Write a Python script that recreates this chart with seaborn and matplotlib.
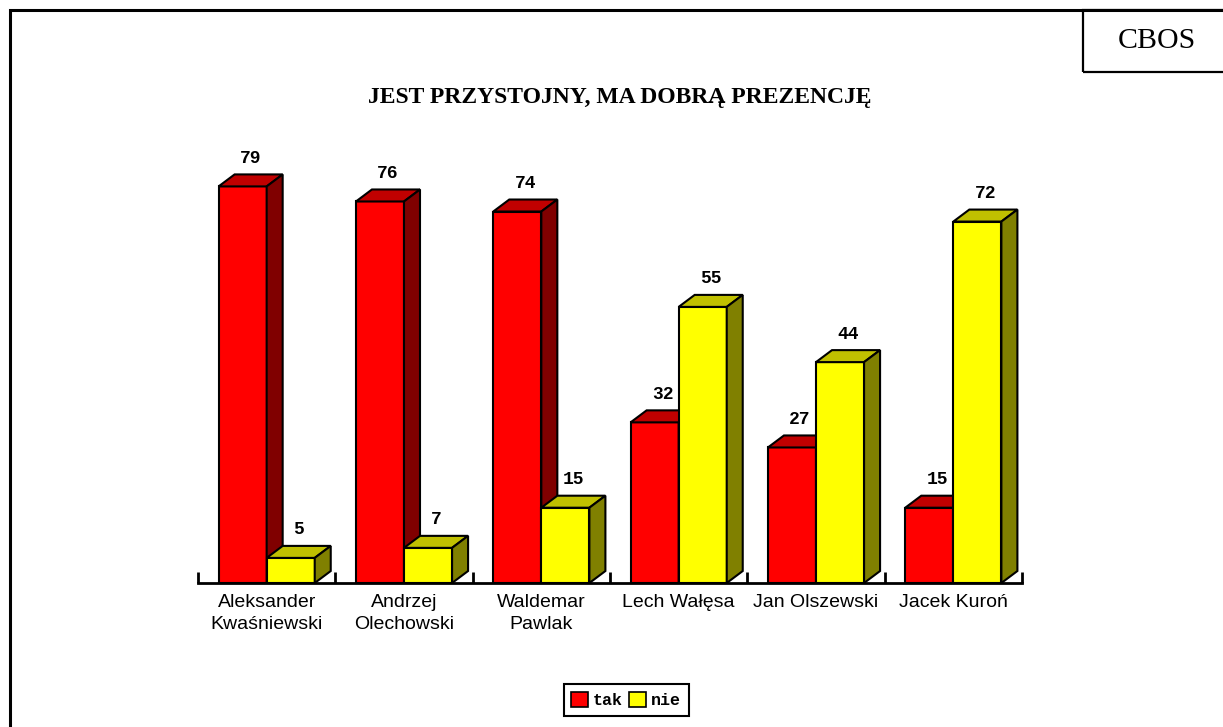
#!/usr/bin/env python3

# import libraries
import numpy as np
import matplotlib.pyplot as plt
import pandas as pd
import seaborn as sns
from matplotlib.patches import Polygon, Rectangle, Patch

# data
politicians = ['Aleksander\nKwaśniewski', 'Andrzej\nOlechowski', 'Waldemar\nPawlak',
               'Lech Wałęsa', 'Jan Olszewski', 'Jacek Kuroń']
tak = [79, 76, 74, 32, 27, 15]
nie = [5, 7, 15, 55, 44, 72]
answers = ['tak', 'nie']

front = {'tak': '#ff0000', 'nie': '#ffff00'}
top = {'tak': '#c00000', 'nie': '#c0c000'}
side = {'tak': '#800000', 'nie': '#808000'}

df = pd.DataFrame({'osoba': politicians * 2,
                   'odp': ['tak'] * len(tak) + ['nie'] * len(nie),
                   'proc': tak + nie})

sns.set_style('white')
plt.rcParams['font.family'] = ['Liberation Sans', 'DejaVu Sans']
plt.rcParams['text.color'] = 'black'
plt.rcParams['xtick.color'] = 'black'

fig = plt.figure(figsize=(12.23, 7.27), dpi=100)
W, H = 1223, 727
ax = fig.add_axes([198 / W, 1 - 583 / H, 824 / W, 433 / H])

sns.barplot(data=df, x='osoba', y='proc', hue='odp', hue_order=answers,
            palette=front, saturation=1, width=0.7, edgecolor='black', linewidth=1.5,
            legend=False, ax=ax)

ymax = 433 / 5.02
ax.set_xlim(-0.5, len(politicians) - 0.5)
ax.set_ylim(0, ymax)

# fake 3d: top and side face for every bar
dx = 16 / 137.3
dy = 12 / 5.02
for i, (name, cont) in enumerate(zip(answers, ax.containers)):
    z = 2 + i
    for bar, val in zip(cont.patches, cont.datavalues):
        bar.set_zorder(z)
        x0 = bar.get_x()
        x1 = x0 + bar.get_width()
        h = bar.get_height()
        ax.add_patch(Polygon([(x0, h), (x0 + dx, h + dy), (x1 + dx, h + dy), (x1, h)],
                             closed=True, facecolor=top[name], edgecolor='black',
                             linewidth=1.5, zorder=z))
        ax.add_patch(Polygon([(x1, 0), (x1 + dx, dy), (x1 + dx, h + dy), (x1, h)],
                             closed=True, facecolor=side[name], edgecolor='black',
                             linewidth=1.5, zorder=z))
        ax.text((x0 + x1) / 2 + dx / 2, h + dy + 1.5, f'{val:.0f}',
                ha='center', va='bottom', fontsize=13, fontweight='bold',
                family='Liberation Mono', color='black', zorder=5)

# axis look
for s in ['left', 'top', 'right']:
    ax.spines[s].set_visible(False)
ax.spines['bottom'].set_linewidth(2)
ax.spines['bottom'].set_color('black')
ax.spines['bottom'].set_zorder(6)
ax.set_yticks([])
ax.set_xlabel('')
ax.set_ylabel('')
ax.set_xticks(range(len(politicians)))
ax.set_xticklabels(politicians, fontsize=14, linespacing=1.4, color='black')
ax.tick_params(axis='x', which='major', length=0, pad=8)
ax.set_xticks(np.arange(-0.5, len(politicians)), minor=True)
ax.tick_params(axis='x', which='minor', bottom=True, length=8, width=2,
               direction='in', color='black')

# title and CBOS box
fig.text(620 / W, 1 - 97 / H, 'JEST PRZYSTOJNY, MA DOBRĄ PREZENCJĘ',
         ha='center', va='center', fontsize=17, fontweight='bold',
         family='Liberation Serif', color='black')
fig.add_artist(Rectangle((10 / W, -0.05), 1.1, 1.05 - 10 / H, transform=fig.transFigure,
                         fill=False, edgecolor='black', linewidth=2.2))
fig.add_artist(Rectangle((1083 / W, 1 - 72 / H), 0.2, 62 / H, transform=fig.transFigure,
                         fill=False, edgecolor='black', linewidth=1.6))
fig.text(1157 / W, 1 - 41 / H, 'CBOS', ha='center', va='center', fontsize=21.5,
         family='Liberation Serif', color='black')

# legend
handles = [Patch(facecolor=front[a], edgecolor='black', linewidth=1.2, label=a) for a in answers]
leg = fig.legend(handles=handles, loc='center', bbox_to_anchor=(626 / W, 1 - 700 / H),
                 ncol=2, handlelength=1.0, handleheight=1.0, handletextpad=0.3,
                 columnspacing=0.4, fancybox=False, framealpha=1, borderpad=0.45,
                 prop={'family': 'Liberation Mono', 'weight': 'bold', 'size': 12})
leg.get_frame().set_edgecolor('black')
leg.get_frame().set_linewidth(1.5)

plt.savefig('out.png', dpi=100)
